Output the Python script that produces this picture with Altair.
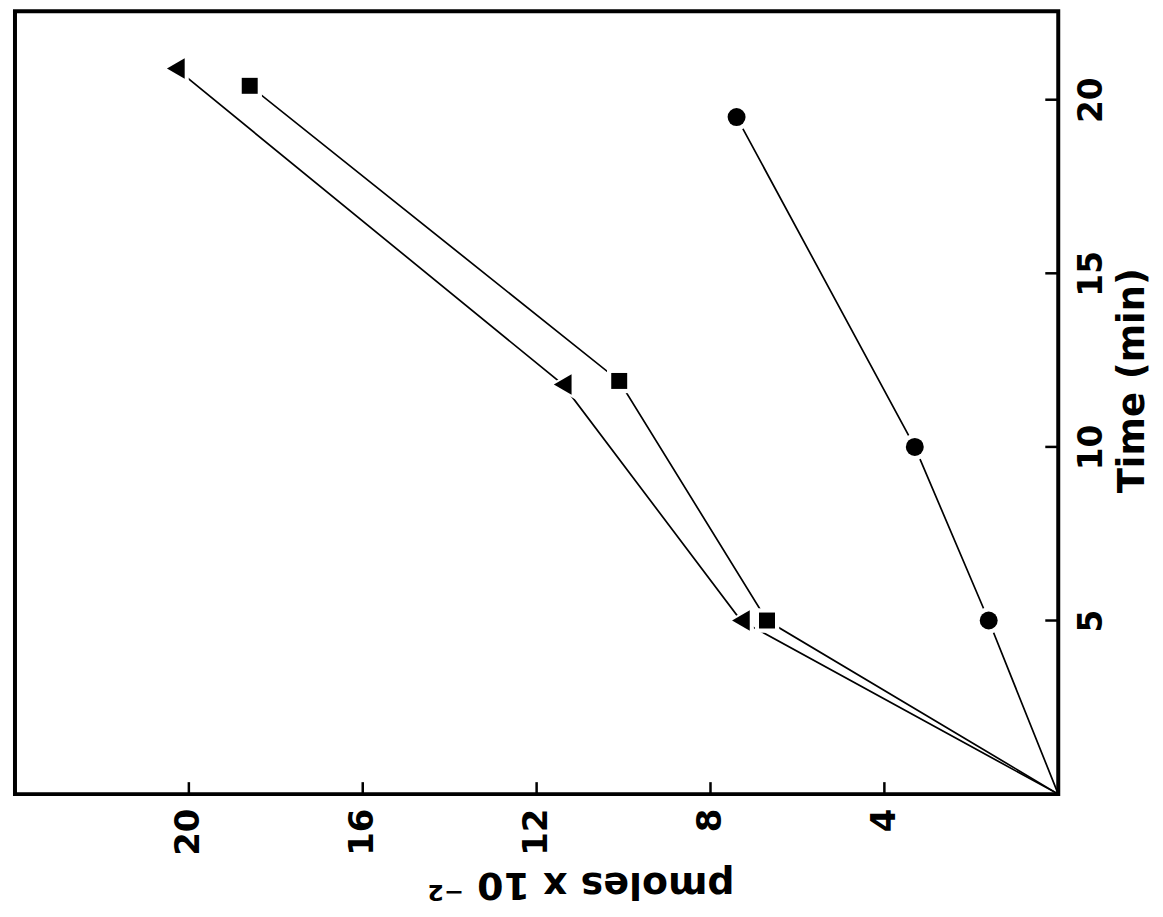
import altair as alt
import pandas as pd

# ---- data (rotated scan) ----
tri_time = [0, 5, 11.8, 20.9]
tri_pmol = [0, 7.3, 11.4, 20.3]
sq_time = [0, 5, 11.9, 20.4]
sq_pmol = [0, 6.7, 10.1, 18.6]
ci_time = [0, 5, 10, 19.5]
ci_pmol = [0, 1.6, 3.3, 7.4]

x_ticks = [4, 8, 12, 16, 20]
y_ticks = [5, 10, 15, 20]

W, H = 1046, 785
FONT = "DejaVu Sans"

rows = []
for name, ts, ps in [("triangle", tri_time, tri_pmol),
                     ("square", sq_time, sq_pmol),
                     ("circle", ci_time, ci_pmol)]:
    for i, (t, p) in enumerate(zip(ts, ps)):
        rows.append({"series": name, "time": t, "pmol": p, "order": i})
df = pd.DataFrame(rows)
pts = df[df["time"] > 0]

xscale = alt.Scale(domain=[0, 24], reverse=True, nice=False, zero=False)
yscale = alt.Scale(domain=[0, 22.55], nice=False, zero=False)

xaxis = alt.Axis(orient="bottom", values=x_ticks, ticks=False, domain=False, grid=False,
                 labelAngle=270, labelAlign="right", labelBaseline="middle",
                 labelFont=FONT, labelFontWeight="bold", labelFontSize=34,
                 labelColor="black", labelPadding=14,
                 title="pmoles x 10 ⁻²", titleAngle=180, titleBaseline="bottom",
                 titleFont=FONT, titleFontWeight="bold", titleFontSize=38,
                 titleColor="black", titlePadding=9, titleX=567)
yaxis = alt.Axis(orient="right", values=y_ticks, ticks=False, domain=False, grid=False,
                 labelAngle=270, labelAlign="center", labelBaseline="top",
                 labelFont=FONT, labelFontWeight="bold", labelFontSize=33,
                 labelColor="black", labelPadding=17,
                 title="Time (min)", titleAngle=270, titleBaseline="top",
                 titleFont=FONT, titleFontWeight="bold", titleFontSize=37,
                 titleColor="black", titlePadding=6, titleY=370)

def X(field):
    return alt.X(field, scale=xscale, axis=xaxis)

def Y(field):
    return alt.Y(field, scale=yscale, axis=yaxis)

lines = alt.Chart(df).mark_line(color="black", strokeWidth=1.7).encode(
    x=X("pmol:Q"), y=Y("time:Q"), detail="series:N", order="order:Q")

def markers(shape, name, size, halo):
    d = pts[pts["series"] == name]
    h = alt.Chart(d).mark_point(shape=shape, filled=True, color="white", opacity=1,
                                size=halo).encode(x=X("pmol:Q"), y=Y("time:Q"))
    m = alt.Chart(d).mark_point(shape=shape, filled=True, color="black", opacity=1,
                                size=size).encode(x=X("pmol:Q"), y=Y("time:Q"))
    return [h, m]

xt = alt.Chart(pd.DataFrame({"pmol": x_ticks})).mark_rule(color="black", strokeWidth=2.5).encode(
    x=X("pmol:Q"), y=alt.value(H), y2=alt.value(H - 12))
yt = alt.Chart(pd.DataFrame({"time": y_ticks})).mark_rule(color="black", strokeWidth=2.5).encode(
    y=Y("time:Q"), x=alt.value(W), x2=alt.value(W - 13))

layers = [lines, xt, yt]
layers += markers("triangle-left", "triangle", 420, 900)
layers += markers("square", "square", 256, 600)
layers += markers("circle", "circle", 324, 700)

chart = alt.layer(*layers).properties(
    width=W, height=H,
    padding={"left": 7, "top": 2, "right": 5, "bottom": 5},
    background="white",
).configure_view(stroke="black", strokeWidth=4)

chart.save("out.html", embed_options={"renderer": "svg", "actions": False})
